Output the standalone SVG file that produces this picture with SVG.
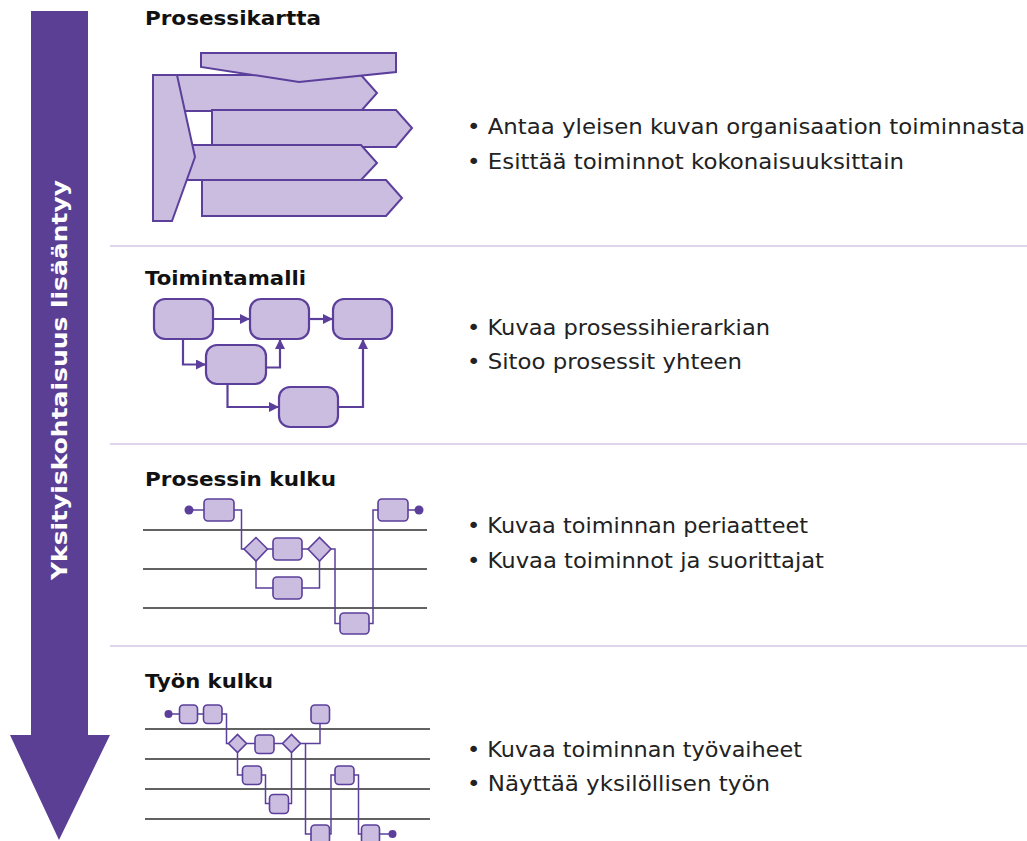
<svg xmlns="http://www.w3.org/2000/svg" width="1027" height="841" viewBox="0 0 1027 841">
<style>
.shape{fill:#cbbde0;stroke:#5b3f9b;stroke-width:2;stroke-linejoin:miter}
.box{fill:#cbbde0;stroke:#5b3f9b;stroke-width:2.2}
.sbox{fill:#cbbde0;stroke:#5b3f9b;stroke-width:1.6}
.wire{fill:none;stroke:#5b3f9b;stroke-width:2.2}
.swire{fill:none;stroke:#5b3f9b;stroke-width:1.5}
.lane{stroke:#2e2e2e;stroke-width:1.5}
.sep{stroke:#d4c6e6;stroke-width:1.5}
.dot{fill:#5b3f9b}
.h{font-family:"DejaVu Sans","Liberation Sans",sans-serif;font-weight:700;font-size:20px;fill:#111}
.b{font-family:"DejaVu Sans","Liberation Sans",sans-serif;font-size:22px;fill:#222}
.v{font-family:"DejaVu Sans","Liberation Sans",sans-serif;font-weight:700;font-size:21px;fill:#fff}
</style>
<defs>
<marker id="ah" markerUnits="userSpaceOnUse" markerWidth="10" markerHeight="10" refX="10" refY="5" orient="auto">
<path d="M0,0 L10,5 L0,10 z" fill="#5b3f9b"/>
</marker>
</defs>

<g id="detail-arrow">
<polygon points="31,11 88,11 88,735 110,735 59,840 10,735 31,735" fill="#5b3f95"/>
<text class="v" x="0" y="0" transform="translate(67,380) rotate(-90)" text-anchor="middle" textLength="400" lengthAdjust="spacingAndGlyphs">Yksityiskohtaisuus lisääntyy</text>
</g>

<g id="separators">
<line class="sep" x1="110" y1="246" x2="1027" y2="246"/>
<line class="sep" x1="110" y1="444" x2="1027" y2="444"/>
<line class="sep" x1="110" y1="646" x2="1027" y2="646"/>
</g>

<g id="prosessikartta">
<text class="h" x="145" y="25" textLength="176" lengthAdjust="spacingAndGlyphs">Prosessikartta</text>
<polygon class="shape" points="160,75 361,75 377,93 361,111 160,111"/>
<polygon class="shape" points="212,110 396,110 412,128 396,147 212,147"/>
<polygon class="shape" points="160,145 361,145 377,163 361,180 160,180"/>
<polygon class="shape" points="202,180 386,180 402,198 386,216 202,216"/>
<polygon class="shape" points="153,75 177,75 195,157 172,221 153,221"/>
<polygon class="shape" points="201,53 396,53 396,72 299,82 201,67"/>
<text class="b" x="467" y="134" textLength="558" lengthAdjust="spacingAndGlyphs">• Antaa yleisen kuvan organisaation toiminnasta</text>
<text class="b" x="467" y="169" textLength="437" lengthAdjust="spacingAndGlyphs">• Esittää toiminnot kokonaisuuksittain</text>
</g>

<g id="toimintamalli">
<text class="h" x="145" y="285" textLength="161" lengthAdjust="spacingAndGlyphs">Toimintamalli</text>
<rect class="box" x="154" y="299" width="59" height="40" rx="11"/>
<rect class="box" x="250" y="299" width="59" height="40" rx="11"/>
<rect class="box" x="333" y="299" width="59" height="40" rx="11"/>
<rect class="box" x="206" y="345" width="60" height="39" rx="11"/>
<rect class="box" x="279" y="387" width="59" height="40" rx="11"/>
<text class="b" x="467" y="335" textLength="303" lengthAdjust="spacingAndGlyphs">• Kuvaa prosessihierarkian</text>
<text class="b" x="467" y="369" textLength="275" lengthAdjust="spacingAndGlyphs">• Sitoo prosessit yhteen</text>
</g>

<g id="prosessin-kulku">
<text class="h" x="145" y="486" textLength="191" lengthAdjust="spacingAndGlyphs">Prosessin kulku</text>
<line class="lane" x1="143" y1="530" x2="427" y2="530"/>
<line class="lane" x1="143" y1="569" x2="427" y2="569"/>
<line class="lane" x1="143" y1="608" x2="427" y2="608"/>
<circle class="dot" cx="189" cy="510" r="4.5"/>
<circle class="dot" cx="419" cy="510" r="4.5"/>
<rect class="sbox" x="204" y="499" width="30" height="22" rx="4"/>
<polygon class="sbox" points="244,549 256,537.5 267.5,549 256,561"/>
<rect class="sbox" x="273" y="538" width="29" height="22" rx="4"/>
<polygon class="sbox" points="308,549 319.5,537.5 331,549 319.5,561"/>
<rect class="sbox" x="273" y="577" width="29" height="22" rx="4"/>
<rect class="sbox" x="340" y="613" width="29" height="21" rx="4"/>
<rect class="sbox" x="378" y="499" width="30" height="22" rx="4"/>
<text class="b" x="467" y="533" textLength="341" lengthAdjust="spacingAndGlyphs">• Kuvaa toiminnan periaatteet</text>
<text class="b" x="467" y="568" textLength="357" lengthAdjust="spacingAndGlyphs">• Kuvaa toiminnot ja suorittajat</text>
</g>

<g id="tyon-kulku">
<text class="h" x="145" y="688" textLength="128" lengthAdjust="spacingAndGlyphs">Työn kulku</text>
<line class="lane" x1="145" y1="729" x2="430" y2="729"/>
<line class="lane" x1="145" y1="759" x2="430" y2="759"/>
<line class="lane" x1="145" y1="789" x2="430" y2="789"/>
<line class="lane" x1="145" y1="819" x2="430" y2="819"/>
<circle class="dot" cx="168.5" cy="714" r="4"/>
<circle class="dot" cx="392.5" cy="834" r="4"/>
<rect class="sbox" x="179.5" y="705" width="18" height="18.5" rx="4"/>
<rect class="sbox" x="203.5" y="705" width="18.5" height="18.5" rx="4"/>
<polygon class="sbox" points="228.5,743.5 237.5,734.5 246.5,743.5 237.5,752.5"/>
<rect class="sbox" x="255" y="735" width="19" height="18.5" rx="4"/>
<polygon class="sbox" points="282.5,743.5 291.5,734.5 300.5,743.5 291.5,752.5"/>
<rect class="sbox" x="311" y="705" width="18.5" height="18.5" rx="4"/>
<rect class="sbox" x="242.5" y="766" width="19" height="18.5" rx="4"/>
<rect class="sbox" x="269.5" y="794.5" width="19" height="19" rx="4"/>
<rect class="sbox" x="335" y="766" width="19" height="18.5" rx="4"/>
<rect class="sbox" x="311" y="825" width="18.5" height="19" rx="4"/>
<rect class="sbox" x="361.5" y="825" width="18" height="19" rx="4"/>
<text class="b" x="467" y="757" textLength="335" lengthAdjust="spacingAndGlyphs">• Kuvaa toiminnan työvaiheet</text>
<text class="b" x="467" y="791" textLength="303" lengthAdjust="spacingAndGlyphs">• Näyttää yksilöllisen työn</text>
</g>

<g id="connectors">
<line class="wire" x1="213" y1="319" x2="250" y2="319" marker-end="url(#ah)"/>
<line class="wire" x1="309" y1="319" x2="333" y2="319" marker-end="url(#ah)"/>
<polyline class="wire" points="183,339 183,364.5 206,364.5" marker-end="url(#ah)"/>
<polyline class="wire" points="266,367.5 280,367.5 280,339" marker-end="url(#ah)"/>
<polyline class="wire" points="227.5,384 227.5,407 279,407" marker-end="url(#ah)"/>
<polyline class="wire" points="338,407 363,407 363,339" marker-end="url(#ah)"/>

<line class="swire" x1="189" y1="510" x2="204" y2="510"/>
<polyline class="swire" points="234,510 241.5,510 241.5,549 244,549"/>
<line class="swire" x1="267.5" y1="549" x2="273" y2="549"/>
<line class="swire" x1="302" y1="549" x2="308" y2="549"/>
<polyline class="swire" points="256,561 256,588 273,588"/>
<polyline class="swire" points="302,588 319.5,588 319.5,561"/>
<polyline class="swire" points="331,549 335,549 335,623.5 340,623.5"/>
<polyline class="swire" points="369,623.5 373,623.5 373,510 378,510"/>
<line class="swire" x1="408" y1="510" x2="419" y2="510"/>

<line class="swire" x1="168.5" y1="714" x2="179.5" y2="714"/>
<line class="swire" x1="197.5" y1="714" x2="203.5" y2="714"/>
<polyline class="swire" points="222,714 226.5,714 226.5,743.5 228.5,743.5"/>
<line class="swire" x1="246.5" y1="743.5" x2="255" y2="743.5"/>
<line class="swire" x1="274" y1="743.5" x2="282.5" y2="743.5"/>
<polyline class="swire" points="300.5,743.5 320,743.5 320,723.5"/>
<polyline class="swire" points="305.5,743.5 305.5,834 311,834"/>
<polyline class="swire" points="237.5,752.5 237.5,775 242.5,775"/>
<polyline class="swire" points="261.5,775 265.5,775 265.5,803.5 269.5,803.5"/>
<polyline class="swire" points="288.5,803.5 291.5,803.5 291.5,752.5"/>
<polyline class="swire" points="329.5,834 331,834 331,775 335,775"/>
<polyline class="swire" points="354,775 358.5,775 358.5,834 361.5,834"/>
<line class="swire" x1="379.5" y1="834" x2="392.5" y2="834"/>
</g>
</svg>
